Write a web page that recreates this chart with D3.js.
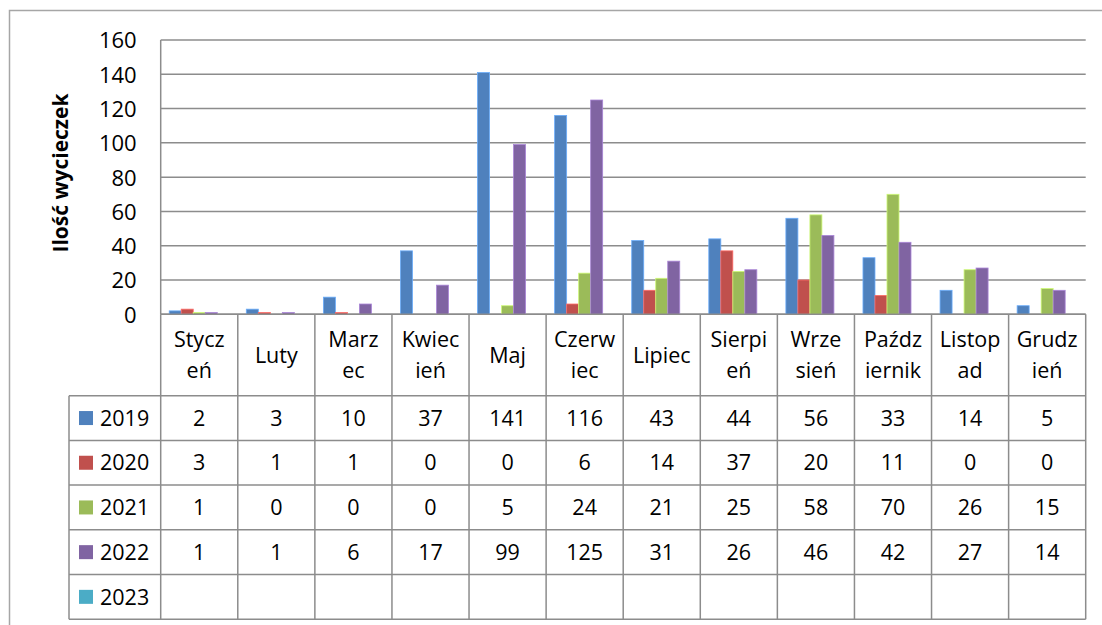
<!DOCTYPE html>
<html>
<head>
<meta charset="utf-8">
<script src="https://cdn.jsdelivr.net/npm/d3@7"></script>
<style>
  body { margin: 0; background: #fff; }
  svg text { font-family: "Open Sans", Lato, sans-serif; fill: #000; }
</style>
</head>
<body>
<div id="chart"></div>
<script>
// Chart data
var months = ["Styczeń", "Luty", "Marzec", "Kwiecień", "Maj", "Czerwiec", "Lipiec",
  "Sierpień", "Wrzesień", "Październik", "Listopad", "Grudzień"];
// how the month names wrap inside the table cells
var monthLines = [["Stycz", "eń"], ["Luty"], ["Marz", "ec"], ["Kwiec", "ień"], ["Maj"],
  ["Czerw", "iec"], ["Lipiec"], ["Sierpi", "eń"], ["Wrze", "sień"], ["Paźdz", "iernik"],
  ["Listop", "ad"], ["Grudz", "ień"]];
var years = ["2019", "2020", "2021", "2022", "2023"];
var v2019 = [2, 3, 10, 37, 141, 116, 43, 44, 56, 33, 14, 5];
var v2020 = [3, 1, 1, 0, 0, 6, 14, 37, 20, 11, 0, 0];
var v2021 = [1, 0, 0, 0, 5, 24, 21, 25, 58, 70, 26, 15];
var v2022 = [1, 1, 6, 17, 99, 125, 31, 26, 46, 42, 27, 14];
var v2023 = [null, null, null, null, null, null, null, null, null, null, null, null];
var yTicks = [0, 20, 40, 60, 80, 100, 120, 140, 160];
var colors = ["#4F81BD", "#C0504D", "#9BBB59", "#8064A2", "#4BACC6"];

var series = [v2019, v2020, v2021, v2022, v2023];

var width = 1102, height = 625;
var plotLeft = 160.7, plotRight = 1085.7, plotTop = 40, plotBottom = 314.3;
var headerBottom = 395.7, rowH = 44.7, legendLeft = 69;
var gridColor = "#8c8c8c";
var fontSize = "21.5px";

var svg = d3.select("#chart").append("svg")
  .attr("width", width)
  .attr("height", height);

// outer chart border
svg.append("rect")
  .attr("x", 9.5).attr("y", 10.5)
  .attr("width", 1120).attr("height", 640)
  .attr("fill", "none")
  .attr("stroke", "#a6a6a6")
  .attr("stroke-width", 1.5);

// scales
var x0 = d3.scaleBand().domain(months).range([plotLeft, plotRight]).padding(0);
var x1 = d3.scaleBand().domain(years).range([0, x0.bandwidth()])
  .paddingInner(0).paddingOuter(0.71);
var y = d3.scaleLinear().domain([0, 160]).range([plotBottom, plotTop]);

// gridlines
svg.append("g")
  .selectAll("line")
  .data(yTicks)
  .enter()
  .append("line")
  .attr("x1", plotLeft).attr("x2", plotRight)
  .attr("y1", function (d) { return y(d); })
  .attr("y2", function (d) { return y(d); })
  .attr("stroke", gridColor)
  .attr("stroke-width", 1.5);

// y axis line
svg.append("line")
  .attr("x1", plotLeft).attr("x2", plotLeft)
  .attr("y1", plotTop).attr("y2", plotBottom)
  .attr("stroke", gridColor).attr("stroke-width", 1.5);

// y tick labels
var yAxis = svg.append("g")
  .attr("transform", "translate(" + (plotLeft - 24) + ",0)")
  .call(d3.axisLeft(y).tickValues(yTicks).tickSize(0).tickPadding(0));
yAxis.select(".domain").remove();
yAxis.selectAll("text")
  .attr("font-size", "22px")
  .attr("font-family", "\"Open Sans\", sans-serif")
  .attr("dy", "0.36em");

// y axis title
svg.append("text")
  .attr("transform", "translate(68," + 173 + ") rotate(-90)")
  .attr("text-anchor", "middle")
  .attr("font-size", "21px")
  .attr("font-weight", "bold")
  .text("Ilość wycieczek");

// bars
var groups = svg.append("g")
  .selectAll("g")
  .data(months)
  .enter()
  .append("g")
  .attr("transform", function (d) { return "translate(" + x0(d) + ",0)"; });

groups.selectAll("rect")
  .data(function (m, i) {
    return years.map(function (yr, s) { return { year: yr, s: s, value: series[s][i] }; })
      .filter(function (d) { return d.value; });
  })
  .enter()
  .append("rect")
  .attr("x", function (d) { return x1(d.year); })
  .attr("width", x1.bandwidth())
  .attr("y", function (d) { return y(d.value); })
  .attr("height", function (d) { return plotBottom - y(d.value); })
  .attr("fill", function (d) { return colors[d.s]; })
  .attr("stroke", function (d) { return d3.color(colors[d.s]).brighter(0.8); })
  .attr("stroke-width", 0.8);

// baseline over bars
svg.append("line")
  .attr("x1", plotLeft).attr("x2", plotRight)
  .attr("y1", plotBottom).attr("y2", plotBottom)
  .attr("stroke", gridColor).attr("stroke-width", 1.5);

// data table
var table = svg.append("g");
var tableBottom = headerBottom + rowH * years.length;

// horizontal lines of rows
for (var r = 0; r <= years.length; r++) {
  table.append("line")
    .attr("x1", legendLeft).attr("x2", plotRight)
    .attr("y1", headerBottom + r * rowH).attr("y2", headerBottom + r * rowH)
    .attr("stroke", gridColor).attr("stroke-width", 1.5);
}
// left border of legend column
table.append("line")
  .attr("x1", legendLeft).attr("x2", legendLeft)
  .attr("y1", headerBottom).attr("y2", tableBottom)
  .attr("stroke", gridColor).attr("stroke-width", 1.5);
// category separators
var seps = [plotLeft].concat(months.map(function (m) { return x0(m) + x0.bandwidth(); }));
table.selectAll(".sep")
  .data(seps)
  .enter()
  .append("line")
  .attr("class", "sep")
  .attr("x1", function (d) { return d; }).attr("x2", function (d) { return d; })
  .attr("y1", plotBottom).attr("y2", tableBottom)
  .attr("stroke", gridColor).attr("stroke-width", 1.5);

// header month names
var headerMid = (plotBottom + headerBottom) / 2;
var lineGap = 31;
months.forEach(function (m, i) {
  var lines = monthLines[i];
  var t = table.append("text")
    .attr("text-anchor", "middle")
    .attr("font-size", fontSize)
    .attr("x", x0(m) + x0.bandwidth() / 2)
    .attr("y", headerMid - (lines.length - 1) * lineGap / 2);
  lines.forEach(function (ln, k) {
    t.append("tspan")
      .attr("x", x0(m) + x0.bandwidth() / 2)
      .attr("dy", k === 0 ? "0.36em" : lineGap + "px")
      .text(ln);
  });
});

// legend keys and values
years.forEach(function (yr, s) {
  var cy = headerBottom + s * rowH + rowH / 2;
  table.append("rect")
    .attr("x", 79).attr("y", cy - 7)
    .attr("width", 14).attr("height", 14)
    .attr("fill", colors[s]);
  table.append("text")
    .attr("x", 100).attr("y", cy)
    .attr("dy", "0.36em")
    .attr("font-size", fontSize)
    .text(yr);
  months.forEach(function (m, i) {
    var v = series[s][i];
    if (v === null) return;
    table.append("text")
      .attr("x", x0(m) + x0.bandwidth() / 2)
      .attr("y", cy)
      .attr("dy", "0.36em")
      .attr("text-anchor", "middle")
      .attr("font-size", fontSize)
      .text(v);
  });
});
</script>
</body>
</html>
